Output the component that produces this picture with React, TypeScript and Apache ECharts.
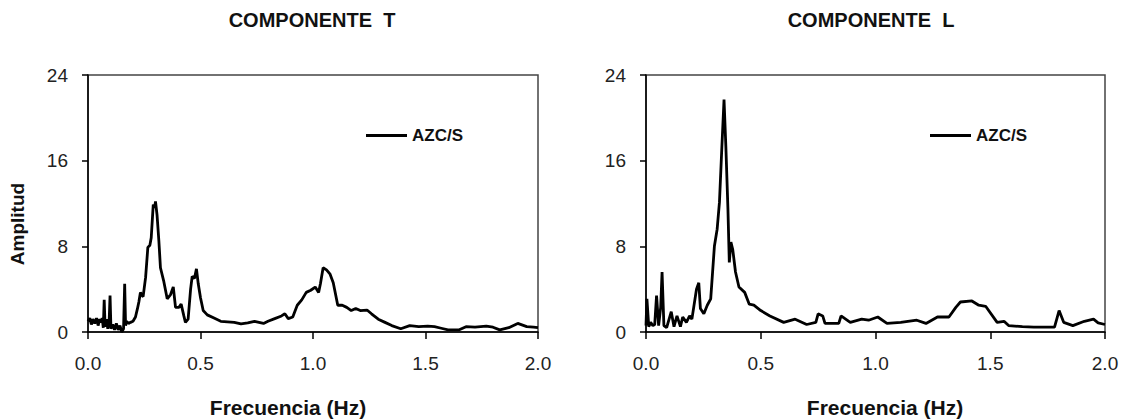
import React, { useEffect, useRef } from "react";
import * as echarts from "echarts";

// ---- Data ----
const seriesName = "AZC/S";
const xTicks = [0, 0.5, 1.0, 1.5, 2.0];
const yTicks = [0, 8, 16, 24];

// Componente T
const freqT = [
  0.0, 0.008, 0.015, 0.022, 0.03, 0.038, 0.045, 0.052, 0.058, 0.063, 0.068, 0.072, 0.076, 0.082, 0.088, 0.094,
  0.098, 0.102, 0.11, 0.118, 0.126, 0.134, 0.142, 0.15, 0.158, 0.163, 0.167, 0.172, 0.18, 0.189, 0.2, 0.211,
  0.22, 0.226, 0.233, 0.24, 0.245, 0.256, 0.266, 0.275, 0.281, 0.29, 0.296, 0.3, 0.307, 0.315, 0.322, 0.336,
  0.352, 0.367, 0.379, 0.389, 0.404, 0.414, 0.426, 0.433, 0.445, 0.456, 0.463, 0.473, 0.482, 0.49, 0.5, 0.512,
  0.53, 0.56, 0.59, 0.62, 0.65, 0.68, 0.71, 0.74, 0.76, 0.78, 0.8, 0.83, 0.86, 0.875, 0.89, 0.91, 0.93, 0.95,
  0.97, 0.99, 1.01, 1.025, 1.033, 1.045, 1.06, 1.076, 1.09, 1.11, 1.13, 1.15, 1.17, 1.19, 1.21, 1.24, 1.26,
  1.29, 1.32, 1.35, 1.39, 1.43, 1.47, 1.51, 1.54, 1.57, 1.6, 1.65, 1.68, 1.72, 1.77, 1.8, 1.83, 1.87, 1.91,
  1.95, 1.98, 2.0,
];
const ampT = [
  1.0, 1.3, 0.7, 1.2, 0.8, 1.3, 0.6, 1.2, 0.9, 1.3, 0.4, 3.0, 0.5, 1.2, 0.3, 1.0,
  3.4, 0.3, 0.7, 0.2, 0.8, 0.2, 0.6, 0.0, 0.3, 4.5, 0.6, 1.0, 0.8, 0.9, 1.0, 1.4,
  2.2, 2.8, 3.7, 3.4, 3.3, 5.1, 7.9, 8.1, 8.8, 11.9, 11.6, 12.2, 10.9, 8.5, 6.0, 4.8,
  3.1, 3.5, 4.2, 2.3, 2.3, 2.6, 1.5, 0.9, 1.2, 4.0, 5.2, 5.0, 5.9, 4.5, 3.2, 2.0,
  1.6, 1.3, 1.0, 0.95, 0.9, 0.75, 0.85, 1.0, 0.9, 0.8, 1.0, 1.25, 1.5, 1.7, 1.25, 1.4, 2.5, 3.0,
  3.7, 3.9, 4.2, 3.7, 4.5, 6.0, 5.8, 5.4, 4.6, 2.5, 2.5, 2.3, 2.0, 2.2, 2.0, 2.05, 1.7,
  1.2, 0.9, 0.6, 0.3, 0.6, 0.5, 0.55, 0.5, 0.35, 0.2, 0.2, 0.5, 0.45, 0.55, 0.45, 0.2, 0.4, 0.8,
  0.5, 0.45, 0.4,
];

// Componente L
const freqL = [
  0.0, 0.004, 0.012, 0.02, 0.03, 0.038, 0.046, 0.055, 0.064, 0.07, 0.078, 0.09, 0.11, 0.122, 0.135, 0.15,
  0.16, 0.176, 0.19, 0.2, 0.22, 0.23, 0.237, 0.252, 0.267, 0.282, 0.298, 0.31, 0.32, 0.33, 0.34, 0.348,
  0.357, 0.363, 0.37, 0.378, 0.39, 0.405, 0.43, 0.45, 0.47, 0.5, 0.54, 0.6, 0.65, 0.7, 0.74, 0.75, 0.77,
  0.78, 0.84, 0.85, 0.89, 0.94, 0.97, 1.01, 1.05, 1.11, 1.18, 1.22, 1.27, 1.32, 1.35, 1.37, 1.42, 1.45,
  1.48, 1.53, 1.56, 1.58, 1.64, 1.69, 1.78, 1.8, 1.82, 1.86, 1.91, 1.95, 1.97, 2.0,
];
const ampL = [
  0.6, 3.1, 0.5, 0.9, 0.6, 0.7, 3.4, 0.6, 2.3, 5.6, 0.6, 0.4, 1.9, 0.5, 1.5, 0.5,
  1.4, 0.9, 1.5, 1.2, 4.0, 4.6, 2.2, 1.7, 2.5, 3.1, 8.0, 9.6, 12.1, 17.0, 21.7, 17.3,
  11.5, 6.5, 8.4, 7.7, 5.6, 4.2, 3.7, 2.6, 2.5, 2.0, 1.5, 0.9, 1.2, 0.7, 0.9, 1.7, 1.5,
  0.8, 0.8, 1.5, 0.9, 1.2, 1.1, 1.4, 0.8, 0.9, 1.1, 0.8, 1.4, 1.4, 2.3, 2.8, 2.9, 2.5,
  2.4, 0.9, 1.0, 0.6, 0.5, 0.45, 0.45, 2.0, 0.9, 0.6, 1.0, 1.2, 0.85, 0.7,
];

const FONT = "'Liberation Sans', Arial, Helvetica, sans-serif";

function pairs(xs: number[], ys: number[]) {
  return xs.map((x, i) => [x, ys[i]]);
}

function makeXAxis(gridIndex: number) {
  return {
    gridIndex,
    type: "value" as const,
    min: xTicks[0],
    max: xTicks[xTicks.length - 1],
    interval: 0.5,
    axisLine: { show: true, onZero: false, lineStyle: { color: "#000", width: 1.5 } },
    axisTick: { show: true, inside: false, length: 7, lineStyle: { color: "#000", width: 1.5 } },
    axisLabel: {
      fontSize: 19,
      color: "#222",
      fontFamily: FONT,
      margin: 22,
      formatter: (v: number) => v.toFixed(1),
    },
    splitLine: { show: false },
  };
}

function makeYAxis(gridIndex: number) {
  return {
    gridIndex,
    type: "value" as const,
    min: yTicks[0],
    max: yTicks[yTicks.length - 1],
    interval: 8,
    axisLine: { show: true, onZero: false, lineStyle: { color: "#000", width: 1.5 } },
    axisTick: { show: true, inside: false, length: 6, lineStyle: { color: "#000", width: 1.5 } },
    axisLabel: { fontSize: 19, color: "#222", fontFamily: FONT, margin: 20 },
    splitLine: { show: false },
  };
}

export default function App() {
  const ref = useRef<HTMLDivElement>(null);

  useEffect(() => {
    if (!ref.current) return;
    const chart = echarts.init(ref.current, null, { renderer: "svg" });
    const textStyle = (size: number) => ({
      fontSize: size,
      fontWeight: "bold" as const,
      fontFamily: FONT,
      fill: "#111",
      align: "center" as const,
      verticalAlign: "middle" as const,
    });
    chart.setOption({
      animation: false,
      backgroundColor: "#fff",
      grid: [
        { left: 88, top: 75, width: 450, height: 257, show: true, borderColor: "#444", borderWidth: 1.5, backgroundColor: "transparent" },
        { left: 646, top: 75, width: 459, height: 257, show: true, borderColor: "#444", borderWidth: 1.5, backgroundColor: "transparent" },
      ],
      xAxis: [makeXAxis(0), makeXAxis(1)],
      yAxis: [makeYAxis(0), makeYAxis(1)],
      legend: [
        {
          left: 366, top: 127, padding: 0, itemWidth: 41, itemHeight: 3, itemGap: 10,
          icon: "rect", data: [seriesName],
          textStyle: { fontSize: 17, fontWeight: "bold", color: "#111", fontFamily: FONT },
          selectedMode: false,
        },
        {
          left: 930, top: 127, padding: 0, itemWidth: 41, itemHeight: 3, itemGap: 10,
          icon: "rect", data: [seriesName],
          textStyle: { fontSize: 17, fontWeight: "bold", color: "#111", fontFamily: FONT },
          selectedMode: false,
        },
      ],
      series: [
        {
          name: seriesName, type: "line", xAxisIndex: 0, yAxisIndex: 0,
          data: pairs(freqT, ampT), showSymbol: false, symbol: "none",
          lineStyle: { color: "#000", width: 2.8 }, itemStyle: { color: "#000" },
        },
        {
          name: seriesName, type: "line", xAxisIndex: 1, yAxisIndex: 1,
          data: pairs(freqL, ampL), showSymbol: false, symbol: "none",
          lineStyle: { color: "#000", width: 2.8 }, itemStyle: { color: "#000" },
        },
      ],
      graphic: [
        { type: "text", x: 312, y: 20, style: { ...textStyle(20), text: "COMPONENTE  T" } },
        { type: "text", x: 871, y: 20, style: { ...textStyle(20), text: "COMPONENTE  L" } },
        { type: "text", x: 288, y: 407, style: { ...textStyle(21), text: "Frecuencia (Hz)" } },
        { type: "text", x: 885, y: 407, style: { ...textStyle(21), text: "Frecuencia (Hz)" } },
        { type: "text", x: 17, y: 224, rotation: Math.PI / 2, style: { ...textStyle(19), text: "Amplitud" } },
      ],
    });
    return () => chart.dispose();
  }, []);

  return (
    <div
      ref={ref}
      style={{ position: "fixed", left: 0, top: 0, width: 1129, height: 420, background: "#fff" }}
    />
  );
}
